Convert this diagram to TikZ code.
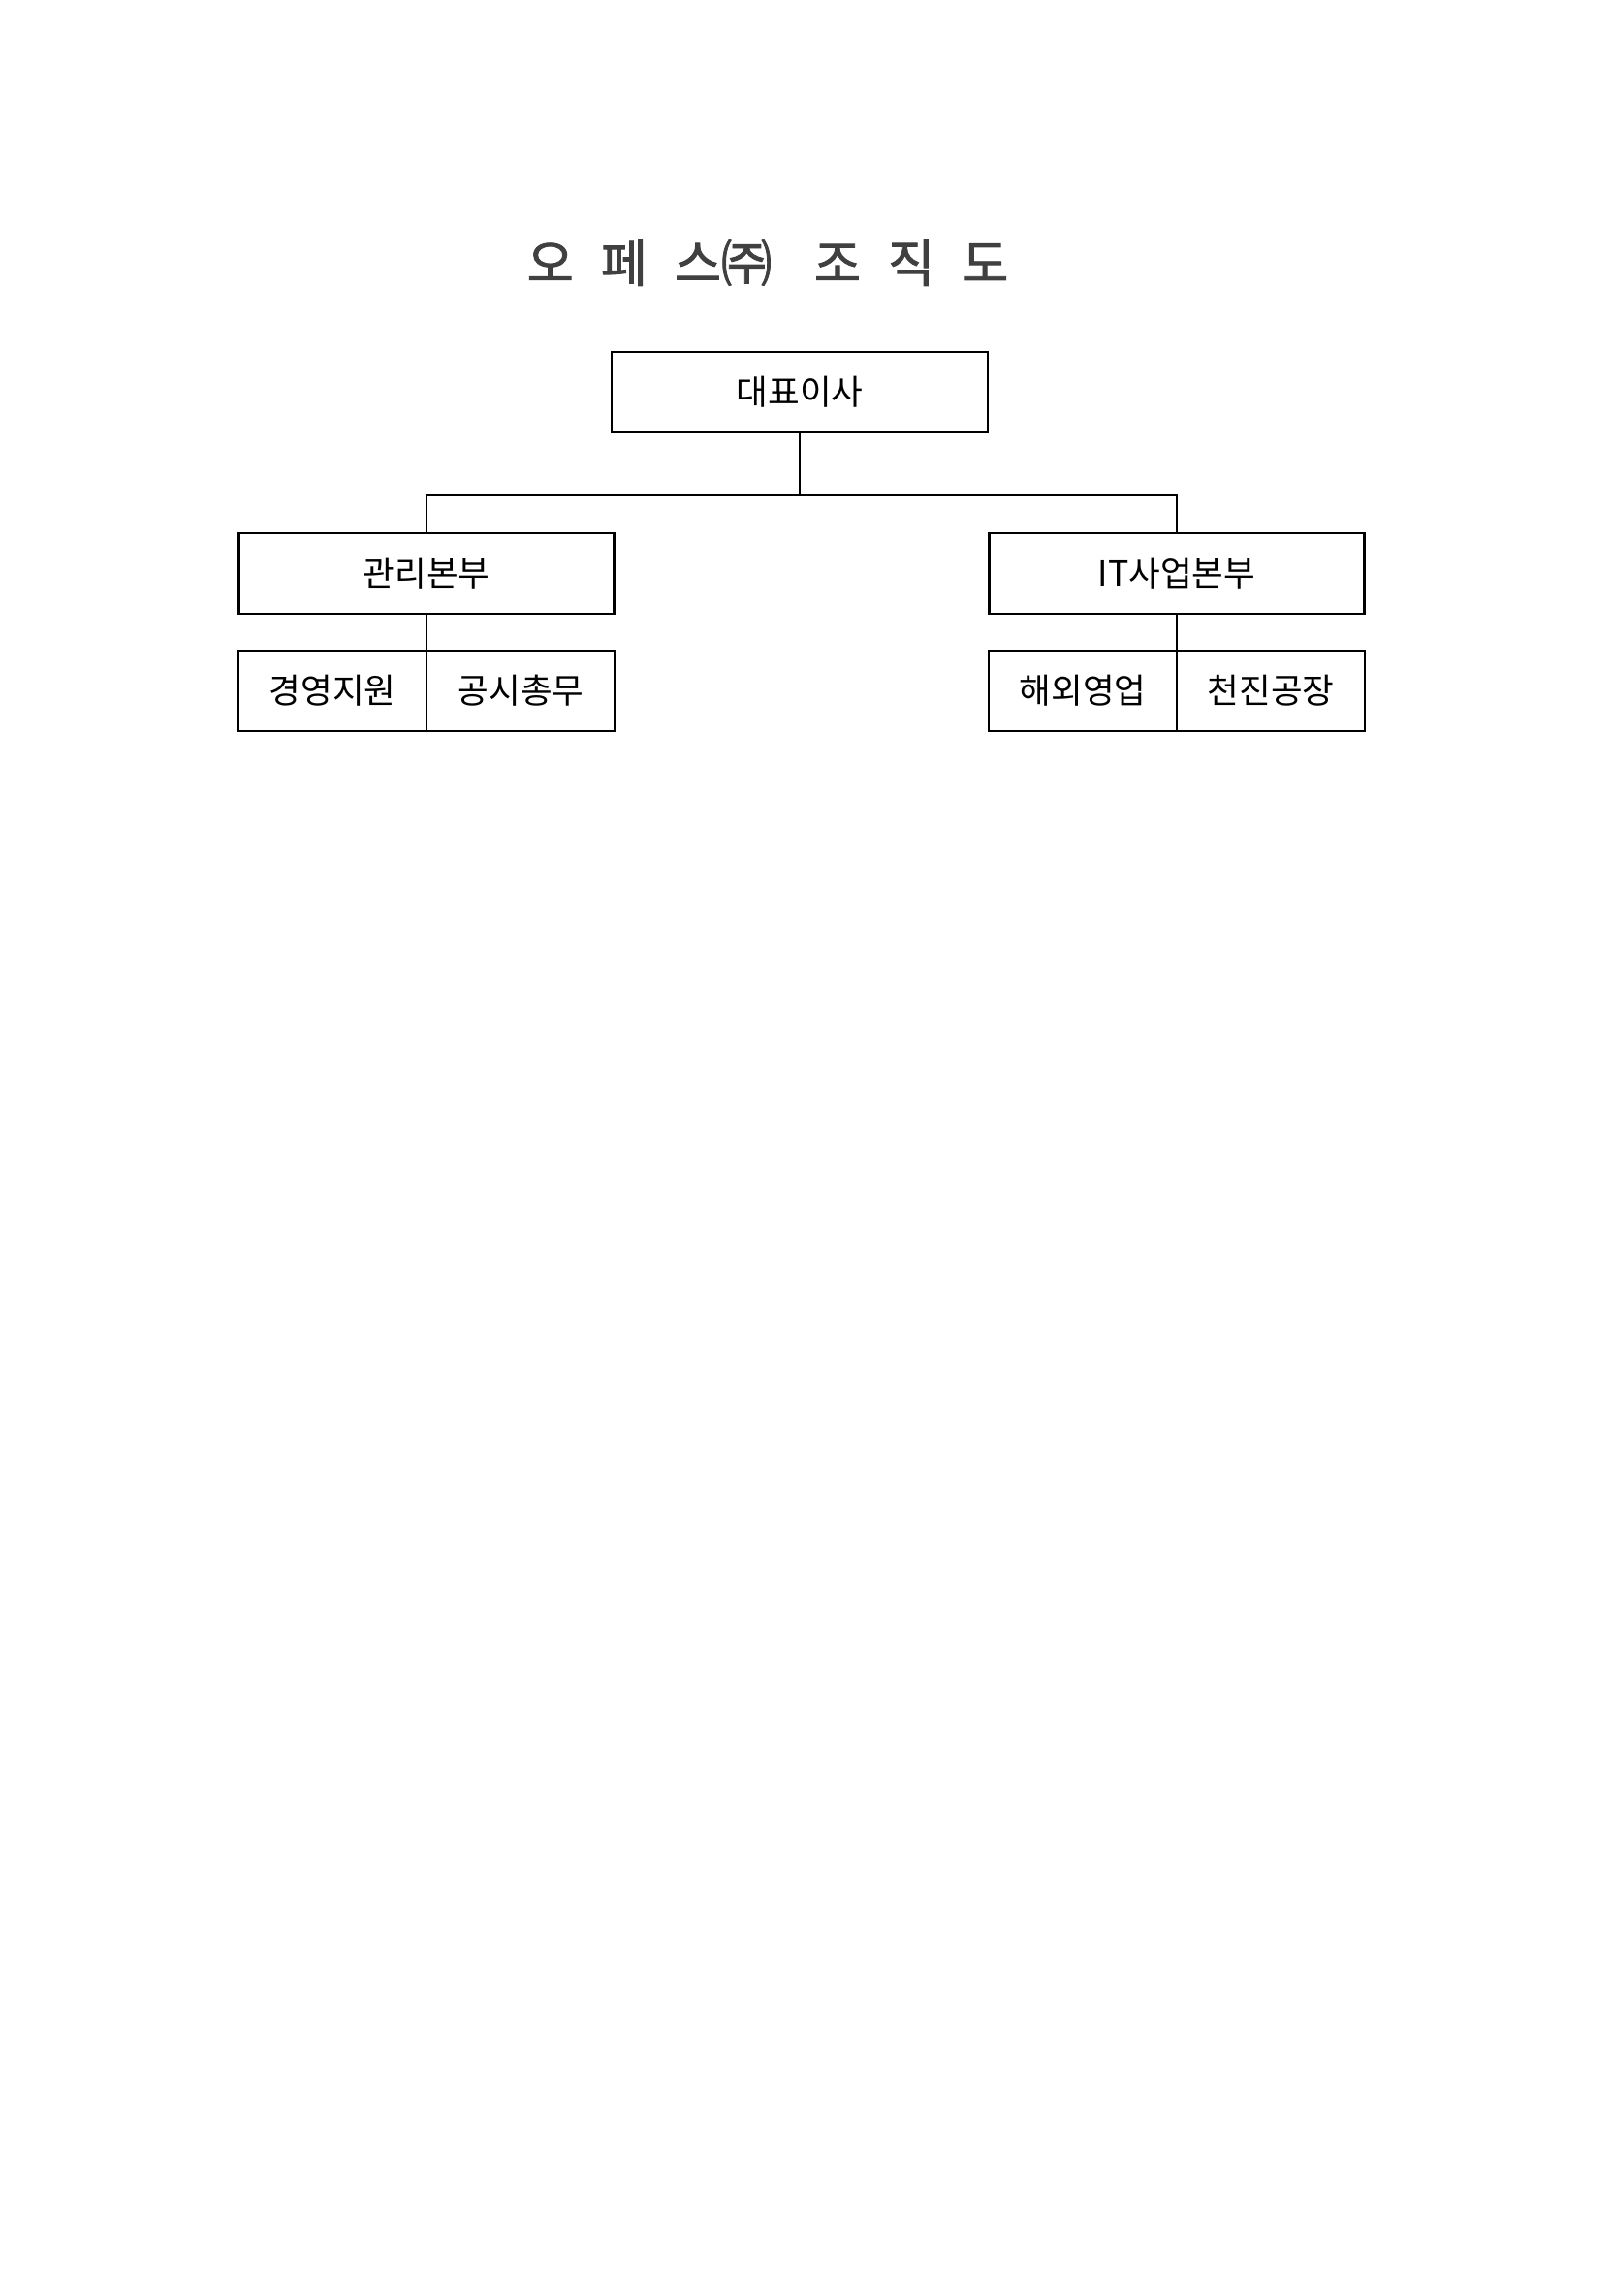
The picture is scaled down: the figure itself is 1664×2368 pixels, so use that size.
\documentclass[tikz,border=0pt]{standalone}
\usepackage{fontspec}
\setmainfont{Noto Sans CJK KR}
\newfontfamily\titlefont[WordSpace=2.4, FakeBold=1.6]{Noto Sans CJK KR}
\usepackage{tikz}
\usetikzlibrary{calc}

\begin{document}
\begin{tikzpicture}[x=0.36pt,y=-0.36pt,
		orgbox/.style={draw, line width=2.6pt*0.36, minimum height=83*0.36pt, inner sep=0pt, font=\fontsize{12.8}{14}\selectfont},
		bigbox/.style={orgbox, minimum width=387*0.36pt},
		smallbox/.style={orgbox, minimum width=194*0.36pt},
		link/.style={line width=1.8pt*0.36},
		bus/.style={line width=2.6pt*0.36}]
				\useasboundingbox (0,0) rectangle (1664,2368);
				\node[font=\titlefont\fontsize{18.8}{20}\selectfont, text=black!75] (title) at (792,271){오 페 스㈜\kern0.3em{} 조 직 도};
				\node[bigbox, minimum width=388*0.36pt] (ceo) at (825,404.5){대표이사};
				\node[bigbox] (mgmt) at (440,591.5){관리본부};
				\node[bigbox] (itdiv) at (1214,591.5){IT사업본부};
				\node[smallbox] (support) at (343,712.5){경영지원};
				\node[smallbox] (general) at (537,712.5){공시총무};
				\node[smallbox] (sales) at (1117,712.5){해외영업};
				\node[smallbox] (factory) at (1311,712.5){천진공장};
				\coordinate (hub) at (825,511);
				\draw[link] (ceo.south) -- (hub);
				\draw[bus] (mgmt.north) |- (hub) -| (itdiv.north);
				\draw[link] (mgmt.south) -- (mgmt.south |- support.north);
				\draw[link] (itdiv.south) -- (itdiv.south |- sales.north);
			\end{tikzpicture}
\end{document}
